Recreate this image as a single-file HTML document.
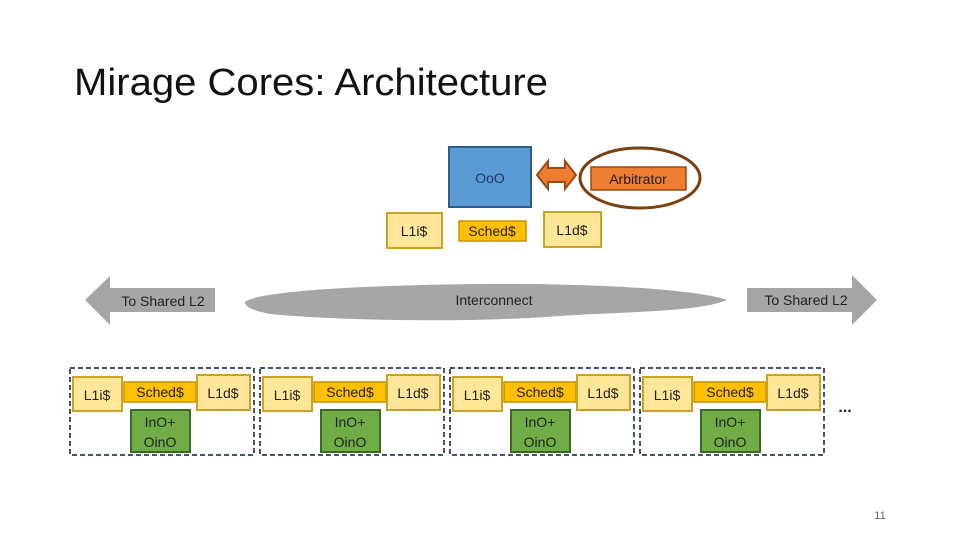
<!DOCTYPE html>
<html><head><meta charset="utf-8"><style>
html,body{margin:0;padding:0;background:#fff;}
svg{display:block;}
text{font-family:"Liberation Sans",sans-serif;}
</style></head><body>
<svg width="960" height="540" viewBox="0 0 960 540" xmlns="http://www.w3.org/2000/svg">
<rect width="960" height="540" fill="#fff"/>
<text x="74" y="95" font-size="38" fill="#111" textLength="474" lengthAdjust="spacingAndGlyphs">Mirage Cores: Architecture</text>

<!-- top core -->
<rect x="449" y="147" width="82" height="60" fill="#5b9bd5" stroke="#2e5b8a" stroke-width="2"/>
<text x="490" y="183" font-size="14" text-anchor="middle" fill="#1f3a60">OoO</text>
<polygon points="537,175 548,161 548,168 565,168 565,161 576,175 565,189 565,182 548,182 548,189" fill="#ed7d31" stroke="#9c4a14" stroke-width="2"/>
<ellipse cx="640" cy="178" rx="60" ry="30" fill="none" stroke="#7b3f10" stroke-width="3"/>
<rect x="591" y="167" width="95" height="23" fill="#ed7d31" stroke="#9c4a14" stroke-width="1.5"/>
<text x="638" y="184" font-size="14" text-anchor="middle" fill="#222">Arbitrator</text>
<rect x="387" y="213" width="55" height="35" fill="#ffe699" stroke="#c9a227" stroke-width="2"/>
<text x="414" y="236" font-size="14" text-anchor="middle" fill="#222">L1i$</text>
<rect x="459" y="221" width="67" height="20" fill="#ffc000" stroke="#c98f00" stroke-width="1.5"/>
<text x="492" y="236" font-size="14" text-anchor="middle" fill="#222">Sched$</text>
<rect x="544" y="212" width="57" height="35" fill="#ffe699" stroke="#c9a227" stroke-width="2"/>
<text x="572" y="235" font-size="14" text-anchor="middle" fill="#222">L1d$</text>

<!-- arrows -->
<polygon points="85,300 110,276 110,288 215,288 215,312 110,312 110,325" fill="#a6a6a6"/>
<text x="163" y="306" font-size="14" text-anchor="middle" fill="#222">To Shared L2</text>
<polygon points="877,300 852,275 852,288 747,288 747,312 852,312 852,325" fill="#a6a6a6"/>
<text x="806" y="305" font-size="14" text-anchor="middle" fill="#222">To Shared L2</text>
<path d="M245,302 C260,290 380,285 480,284 C600,283 700,290 727,300 C700,312 620,312 560,316 C480,322 360,322 270,314 C250,310 245,306 245,302 Z" fill="#a6a6a6"/>
<text x="494" y="305" font-size="14" text-anchor="middle" fill="#222">Interconnect</text>

<!-- cores -->
<g id="c1">
<rect x="70" y="368" width="184" height="87" fill="none" stroke="#44546a" stroke-width="2" stroke-dasharray="5,3"/>
<rect x="73" y="377" width="49" height="34" fill="#ffe699" stroke="#c9a227" stroke-width="2"/>
<text x="97" y="400" font-size="14" text-anchor="middle" fill="#222">L1i$</text>
<rect x="124" y="382" width="72" height="20" fill="#ffc000" stroke="#c98f00" stroke-width="1.5"/>
<text x="160" y="397" font-size="14" text-anchor="middle" fill="#222">Sched$</text>
<rect x="197" y="375" width="53" height="35" fill="#ffe699" stroke="#c9a227" stroke-width="2"/>
<text x="223" y="398" font-size="14" text-anchor="middle" fill="#222">L1d$</text>
<rect x="131" y="410" width="59" height="42" fill="#70ad47" stroke="#3b6b22" stroke-width="2"/>
<text x="160" y="427" font-size="14" text-anchor="middle" fill="#222">InO+</text>
<text x="160" y="447" font-size="14" text-anchor="middle" fill="#222">OinO</text>
</g>
<use href="#c1" x="190"/>
<use href="#c1" x="380"/>
<use href="#c1" x="570"/>
<text x="845" y="412" font-size="16" font-weight="bold" text-anchor="middle" fill="#222">...</text>
<text x="880" y="519" font-size="11" text-anchor="middle" fill="#666">11</text>
</svg>
</body></html>
